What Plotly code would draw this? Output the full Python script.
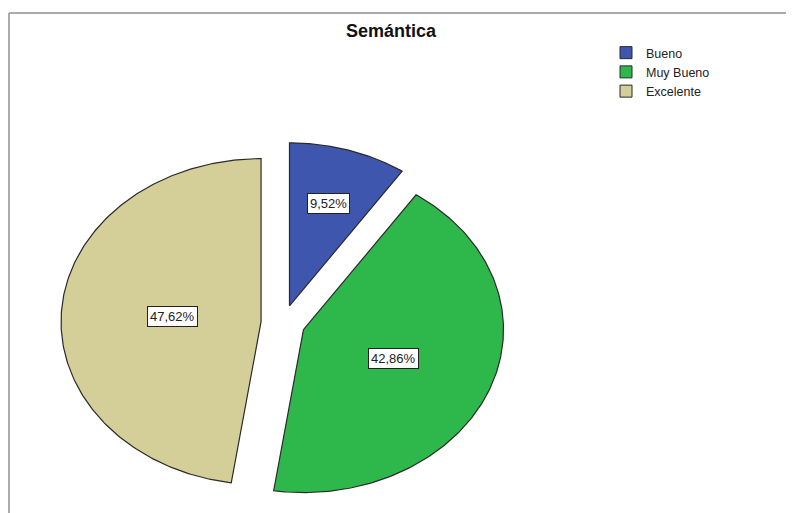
import numpy as np
import plotly.graph_objects as go

# ---- data ----
categories = ["Bueno", "Muy Bueno", "Excelente"]
percentages = [9.52, 42.86, 47.62]
title_text = "Semántica"

# ---- style ----
colors = ["#3F56AE", "#2EB84B", "#D4CE99"]
edge_color = "#2A2A2A"
W, H = 794, 513
OFF = 8                      # page body margin compensation
cx_px, cy_px = 283 - OFF, 323 - OFF   # pie centre (pixels from top-left of figure)
rx_px, ry_px = 200, 163      # pie radii in pixels (stretched pie)
pull = 0.11                  # explode distance in radius units

fracs = np.array(percentages) / sum(percentages)
ends = np.cumsum(fracs) * 2 * np.pi
starts = ends - fracs * 2 * np.pi

fig = go.Figure()
annotations = []
for cat, f, a0, a1, col, pct in zip(categories, fracs, starts, ends, colors, percentages):
    mid = (a0 + a1) / 2
    ox, oy = pull * np.sin(mid), pull * np.cos(mid)
    t = np.linspace(a0, a1, 200)
    xs = np.concatenate([[ox], ox + np.sin(t), [ox]])
    ys = np.concatenate([[oy], oy + np.cos(t), [oy]])
    fig.add_trace(go.Scatter(
        x=xs, y=ys, mode="lines", fill="toself", fillcolor=col,
        line=dict(color=edge_color, width=1.2), showlegend=False,
        name=cat, hoverinfo="text", text=f"{cat}: {pct:.2f}%".replace(".", ","),
    ))
    # label at sector centroid
    half = (a1 - a0) / 2
    rc = 2 * np.sin(half) / (3 * half)
    annotations.append(dict(
        x=ox + rc * np.sin(mid), y=oy + rc * np.cos(mid), xref="x", yref="y",
        text=f"{pct:.2f}%".replace(".", ","), showarrow=False,
        font=dict(family="Arial, Liberation Sans, sans-serif", size=13, color="#222"),
        bgcolor="white", bordercolor="#222", borderwidth=1, borderpad=2,
    ))

# legend entries
for cat, col in zip(categories, colors):
    fig.add_trace(go.Scatter(
        x=[None], y=[None], mode="markers", name=cat,
        marker=dict(symbol="square", size=12, color=col, line=dict(color=edge_color, width=1)),
    ))

# frame lines (gray border top & left)
fx, fy = 9 - OFF, 13 - OFF
shapes = [
    dict(type="line", xref="paper", yref="paper", x0=fx / W, x1=fx / W, y0=0, y1=1 - fy / H,
         line=dict(color="#AAAAAA", width=2)),
    dict(type="line", xref="paper", yref="paper", x0=fx / W, x1=1, y0=1 - fy / H, y1=1 - fy / H,
         line=dict(color="#AAAAAA", width=2)),
]

fig.update_layout(
    width=W, height=H,
    margin=dict(l=0, r=0, t=0, b=0),
    paper_bgcolor="white", plot_bgcolor="white",
    title=dict(text=f"<b>{title_text}</b>", x=(391 - OFF) / W, xanchor="center",
               y=1 - (31 - OFF) / H, yanchor="middle", xref="paper", yref="container",
               font=dict(family="Arial, Liberation Sans, sans-serif", size=18, color="#111")),
    xaxis=dict(range=[-cx_px / rx_px, (W - cx_px) / rx_px], visible=False, fixedrange=True),
    yaxis=dict(range=[-(H - cy_px) / ry_px, cy_px / ry_px], visible=False, fixedrange=True),
    legend=dict(x=(606 - OFF) / W, y=1 - (38 - OFF) / H, xanchor="left", yanchor="top",
                font=dict(family="Arial, Liberation Sans, sans-serif", size=12.5, color="#222"),
                bgcolor="rgba(0,0,0,0)", itemwidth=30, tracegroupgap=0),
    annotations=annotations,
    shapes=shapes,
)

fig.write_html("out.html")
